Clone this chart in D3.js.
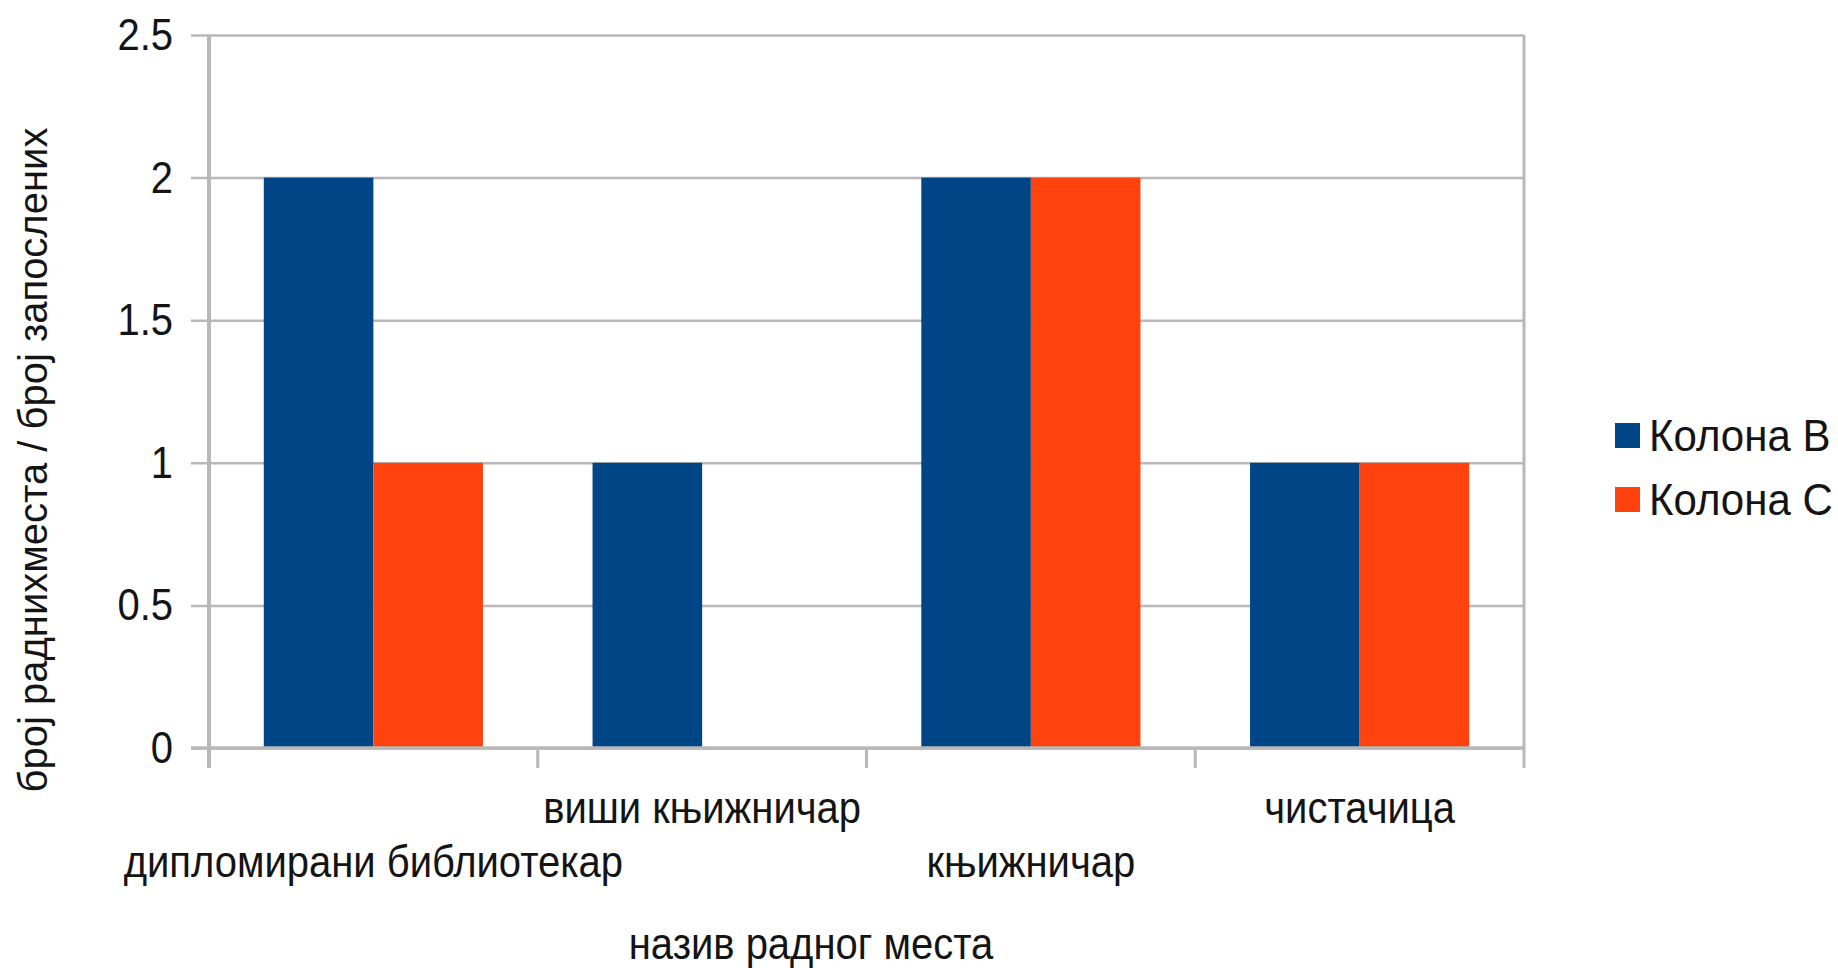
<!DOCTYPE html>
<html>
<head>
<meta charset="utf-8">
<script src="https://cdn.jsdelivr.net/npm/d3@7"></script>
<style>
  html, body { margin: 0; padding: 0; background: #fff; }
  svg { display: block; }
  text { font-family: "Liberation Sans", Arial, sans-serif; fill: #141414; }
</style>
</head>
<body>
<svg id="chart"></svg>
<script>
const w = 1838;
const h = 968;

const categories = ['дипломирани библиотекар', 'виши књижничар', 'књижничар', 'чистачица'];
const seriesNames = ['Колона B', 'Колона C'];
const kolonaB = [2, 1, 2, 1];
const kolonaC = [1, 0, 2, 1];
const yTicks = [0, 0.5, 1, 1.5, 2, 2.5];

const colors = ['#004586', '#ff420e'];

const plot = { left: 209, right: 1524, top: 35, bottom: 748 };
// the source text is a little taller than it is wide
const stretch = 1.13;

let canvas = d3.select('#chart').attr('width', w).attr('height', h);

let data = categories.map((c, i) => ({ category: c, values: [kolonaB[i], kolonaC[i]] }));

let xScale = d3.scaleBand().domain(categories).range([plot.left, plot.right]);
let bw = xScale.bandwidth();
let xInner = d3.scaleBand().domain(seriesNames).range([bw / 6, bw * 5 / 6]);
let yScale = d3.scaleLinear().domain([0, 2.5]).range([plot.bottom, plot.top]);

// gridlines + y labels
let yAxis = d3.axisLeft(yScale)
	.tickValues(yTicks)
	.tickFormat((d) => String(d))
	.tickSize(-(plot.right - plot.left))
	.tickPadding(36);

let gy = canvas.append('g')
	.attr('id', 'y-axis')
	.attr('transform', `translate(${plot.left},0)`)
	.call(yAxis);
gy.select('.domain').remove();
gy.selectAll('.tick line')
	.attr('x1', -18)
	.attr('stroke', '#b8b8b8')
	.attr('stroke-width', 2.5);
gy.selectAll('.tick text')
	.attr('x', -36)
	.attr('transform', `scale(1,${stretch})`)
	.style('font-size', '40px')
	.attr('fill', '#141414');

// bars
let groups = canvas.append('g')
	.selectAll('g')
	.data(data)
	.enter()
	.append('g')
	.attr('transform', (d) => `translate(${xScale(d.category)},0)`);

groups.selectAll('rect')
	.data((d) => d.values.map((v, j) => ({ name: seriesNames[j], value: v, idx: j })))
	.enter()
	.append('rect')
	.attr('x', (d) => xInner(d.name))
	.attr('width', xInner.bandwidth())
	.attr('y', (d) => yScale(d.value))
	.attr('height', (d) => yScale(0) - yScale(d.value))
	.attr('fill', (d) => colors[d.idx]);

// x axis: ticks at category boundaries
let bounds = categories.map((c) => xScale(c)).concat([plot.right]);
let axisG = canvas.append('g').attr('id', 'x-axis');
axisG.append('line')
	.attr('x1', plot.left - 18).attr('x2', plot.right)
	.attr('y1', yScale(0)).attr('y2', yScale(0))
	.attr('stroke', '#b8b8b8').attr('stroke-width', 3.5);
axisG.selectAll('line.tick')
	.data(bounds)
	.enter()
	.append('line')
	.attr('class', 'tick')
	.attr('x1', (d) => d).attr('x2', (d) => d)
	.attr('y1', (d, i) => (i === 0 || i === bounds.length - 1) ? plot.top : yScale(0))
	.attr('y2', yScale(0) + 20)
	.attr('stroke', '#b8b8b8')
	.attr('stroke-width', (d, i) => i === 0 ? 4 : 3);

// staggered category labels
axisG.selectAll('text')
	.data(categories)
	.enter()
	.append('text')
	.attr('transform', (d, i) => `translate(${xScale(d) + bw / 2},${i % 2 === 0 ? 877 : 823}) scale(1,${stretch})`)
	.attr('text-anchor', 'middle')
	.style('font-size', '40px')
	.text((d) => d);

// axis titles
canvas.append('text')
	.attr('transform', `translate(811,959) scale(1,${stretch})`)
	.attr('text-anchor', 'middle')
	.style('font-size', '40px')
	.text('назив радног места');

canvas.append('text')
	.attr('transform', 'translate(47,460) rotate(-90)')
	.attr('text-anchor', 'middle')
	.style('font-size', '40px')
	.text('број раднихместа / број запослених');

// legend
let legend = canvas.append('g').attr('id', 'legend');
let items = legend.selectAll('g')
	.data(seriesNames)
	.enter()
	.append('g')
	.attr('transform', (d, i) => `translate(1615,${436 + i * 64})`);
items.append('rect')
	.attr('x', 0).attr('y', -13)
	.attr('width', 25).attr('height', 25)
	.attr('fill', (d, i) => colors[i]);
items.append('text')
	.attr('transform', `translate(34,15) scale(1,1.05)`)
	.style('font-size', '42px')
	.text((d) => d);
</script>
</body>
</html>
